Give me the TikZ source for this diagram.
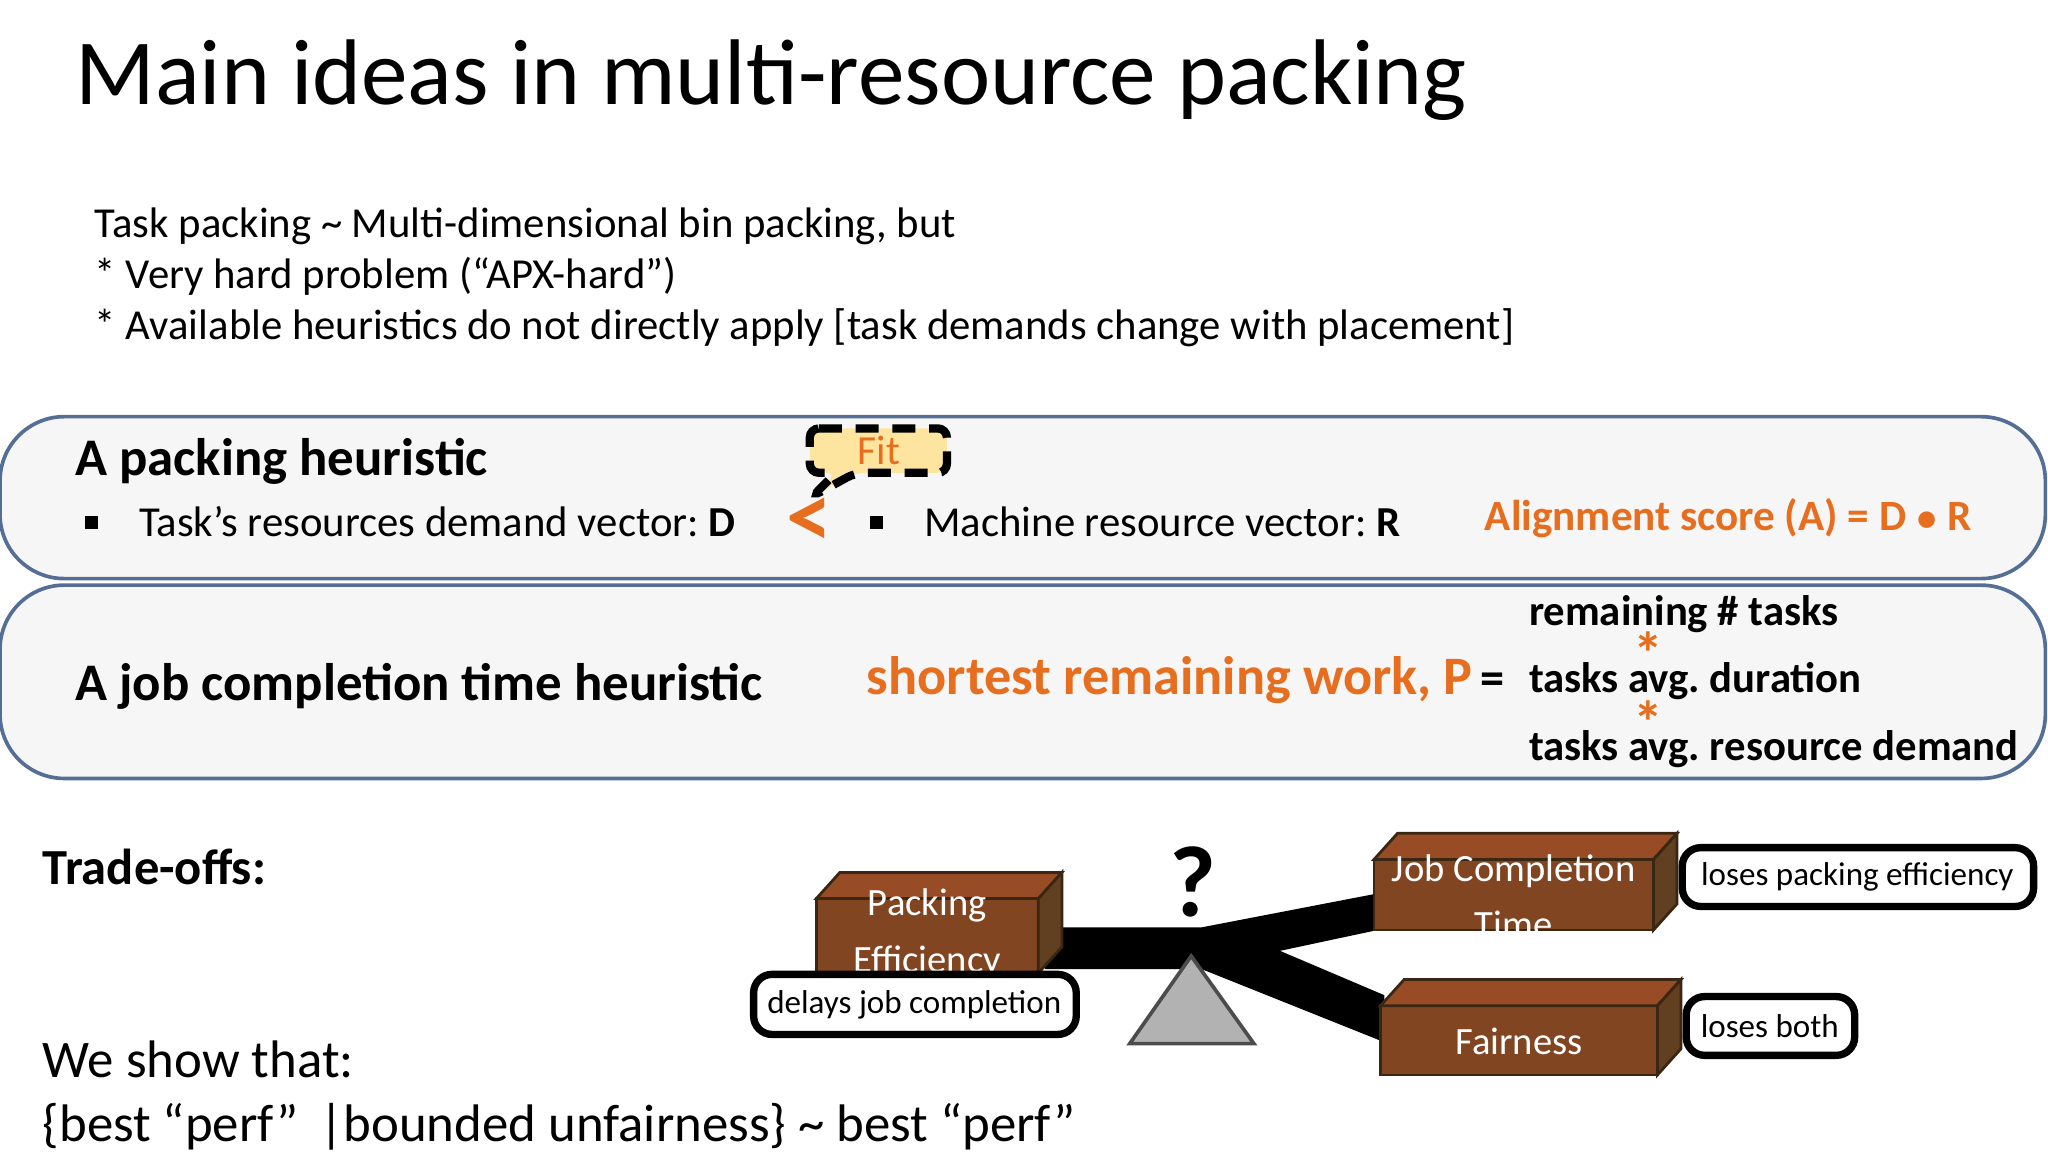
\documentclass[tikz,border=0pt]{standalone}
\usepackage{fontspec}
\setmainfont{Carlito}
\frenchspacing
\definecolor{bord}{RGB}{84,110,150}
\definecolor{orng}{RGB}{230,110,30}
\begin{document}
\begin{tikzpicture}[x=0.01cm,y=-0.01cm,every node/.style={inner sep=0pt},
  hbox/.style={draw=bord,fill=gray!7,rounded corners=14pt,line width=0.8pt},
  org/.style={text=orng},
  bx/.style={fill=brown!60!black!90!red,draw=black!70!brown,line width=0.6pt}]
\useasboundingbox (0,0) rectangle (1568,882);
\node[anchor=base west,font=\fontsize{20.3}{24}\selectfont] (title) at (57,80) {Main ideas in multi-resource packing};
\node[anchor=base west,font=\fontsize{9.3}{12}\selectfont] (t1) at (72,182) {Task packing \textasciitilde{} Multi-dimensional bin packing, but};
\node[anchor=base west,font=\fontsize{9.3}{12}\selectfont] (t2) at (72,221) {* Very hard problem (“APX-hard”)};
\node[anchor=base west,font=\fontsize{9.3}{12}\selectfont] (t3) at (72,260) {* Available heuristics do not directly apply [task demands change with placement]};
% box 1
\draw[hbox] (0,319) rectangle (1566,443);
\node[anchor=base west,font=\bfseries\fontsize{11.5}{14}\selectfont] (h1) at (57,364) {A packing heuristic};
\fill (65,395) rectangle (75,405);
\node[anchor=base west,font=\fontsize{9.3}{12}\selectfont] (d) at (106,411) {Task’s resources demand vector: \textbf{D}};
\node[org,font=\bfseries\fontsize{20}{22}\selectfont] (lt) at (620,400) {<};
\fill (666,395) rectangle (676,405);
\node[anchor=base west,font=\fontsize{9.3}{12}\selectfont] (r) at (707,411) {Machine resource vector: \textbf{R}};
\node[org,anchor=base east,font=\bfseries\fontsize{9.4}{12}\selectfont] (al) at (1510,406) {Alignment score (A) = D $\bullet$ R};
\draw[dashed,line width=1.8pt,fill=yellow!50!orange!35,dash pattern=on 5pt off 3pt,rounded corners=2pt]
  (620,328) -- (725,328) -- (725,362) -- (655,362) -- (622,380) -- (640,362) -- (620,362) -- cycle;
\node[org,font=\fontsize{9}{11}\selectfont] (fit) at (673,345) {Fit};
% box 2
\draw[hbox] (0,448) rectangle (1566,596);
\node[anchor=base west,font=\bfseries\fontsize{11.5}{14}\selectfont] (h2) at (57,536) {A job completion time heuristic};
\node[org,anchor=base west,font=\bfseries\fontsize{11.8}{14}\selectfont] (srw) at (663,532) {shortest remaining work, P};
\node[anchor=base,font=\bfseries\fontsize{10.5}{12}\selectfont] (eq) at (1143,532) {=};
\node[anchor=base west,font=\bfseries\fontsize{9.3}{12}\selectfont] (f1) at (1170,479) {remaining \# tasks};
\node[org,font=\bfseries\fontsize{13}{13}\selectfont] (s1) at (1262,500) {*};
\node[anchor=base west,font=\bfseries\fontsize{9.3}{12}\selectfont] (f2) at (1170,530) {tasks avg. duration};
\node[org,font=\bfseries\fontsize{13}{13}\selectfont] (s2) at (1262,553) {*};
\node[anchor=base west,font=\bfseries\fontsize{9.3}{12}\selectfont] (f3) at (1170,582) {tasks avg. resource demand};
% trade-offs
\node[anchor=base west,font=\bfseries\fontsize{11}{14}\selectfont] (to) at (32,677) {Trade-offs:};
\node[anchor=base west,font=\fontsize{11.5}{14}\selectfont] (ws) at (32,825) {We show that:};
\node[anchor=base west,font=\fontsize{11.5}{14}\selectfont] (bp) at (32,874) {\{best “perf” \,|bounded unfairness\} \textasciitilde{} best “perf”};
% scale
\fill[black] (800,710) -- (920,710) -- (1055,684) -- (1055,712) -- (980,728) -- (1060,762) -- (1060,798) -- (920,742) -- (800,742) -- cycle;
\draw[fill=gray!60,draw=black!70,line width=0.8pt] (912,732) -- (960,799) -- (865,799) -- cycle;
\node[font=\bfseries\fontsize{22}{24}\selectfont] (q) at (913,675) {?};
% 3d boxes
\foreach \a/\b/\c/\d in {625/688/795/745,1052/658/1266/712,1057/770/1269/823}{
  \draw[bx] (\a,\b) rectangle (\c,\d);
  \draw[bx,fill=brown!70!black!85!red] (\a,\b) -- (\a+18,\b-20) -- (\c+18,\b-20) -- (\c,\b) -- cycle;
  \draw[bx,fill=brown!50!black] (\c,\b) -- (\c+18,\b-20) -- (\c+18,\d-20) -- (\c,\d) -- cycle;
}
\node[text=white,align=center,font=\fontsize{8.4}{12.3}\selectfont] (pe) at (710,715) {Packing\\Efficiency};
\node[text=white,align=center,font=\fontsize{8.4}{12.3}\selectfont] (jct) at (1159,686) {Job Completion\\Time};
\node[text=white,font=\fontsize{8.4}{11}\selectfont] (fa) at (1163,797) {Fairness};
\draw[line width=1.6pt,rounded corners=4pt,fill=white] (577,746) rectangle (824,792);
\node[font=\fontsize{7.2}{9}\selectfont] (l1t) at (700,769) {delays job completion};
\draw[line width=1.6pt,rounded corners=4pt,fill=white] (1288,649) rectangle (1557,694);
\node[font=\fontsize{7.2}{9}\selectfont] (l2t) at (1422,671) {loses packing efficiency};
\draw[line width=1.6pt,rounded corners=4pt,fill=white] (1291,763) rectangle (1420,808);
\node[font=\fontsize{7.2}{9}\selectfont] (l3t) at (1355,786) {loses both};
\end{tikzpicture}
\end{document}
